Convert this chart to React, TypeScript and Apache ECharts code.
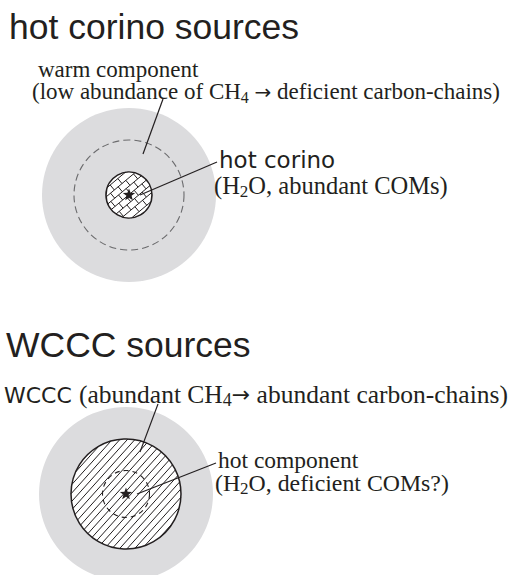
import React, { useEffect, useRef } from "react";
import * as echarts from "echarts";

// ---- content (texts) ----
const sectionTitles = ["hot corino sources", "WCCC sources"];
const warmLabel = ["warm component", "(low abundance of CH", "4", " ", "\u2192", " deficient carbon-chains)"];
const hotCorinoLabel = ["hot corino", "(H", "2", "O, abundant COMs)", "", ""];
const wcccLabel = ["WCCC", "(abundant CH", "4", "", "\u2192", " abundant carbon-chains)"];
const hotCompLabel = ["hot component", "(H", "2", "O, deficient COMs?)", "", ""];

const SANS = "'Liberation Sans', Arial, Helvetica, sans-serif";
const GOTHIC = "'DejaVu Sans', Verdana, sans-serif";
const SERIF = "'Liberation Serif', 'Times New Roman', serif";
const INK = "#231f20";
const GRAY = "#dcdcde";
const DASHGRAY = "#6a6a6c";

function star(cx: number, cy: number, R: number, r: number) {
  const pts: number[][] = [];
  for (let i = 0; i < 10; i++) {
    const a = -Math.PI / 2 + (i * Math.PI) / 5;
    const rr = i % 2 === 0 ? R : r;
    pts.push([cx + rr * Math.cos(a), cy + rr * Math.sin(a)]);
  }
  return { type: "polygon", shape: { points: pts }, style: { fill: INK } };
}

function hatch(cx: number, cy: number, R: number, step: number, angleDeg: number, lw = 0.9) {
  const t = (angleDeg * Math.PI) / 180;
  const ux = Math.cos(t), uy = -Math.sin(t);
  const nx = Math.sin(t), ny = Math.cos(t);
  const out: any[] = [];
  for (let d = -R + step / 2; d < R; d += step) {
    const h = Math.sqrt(Math.max(0, R * R - d * d));
    const px = cx + nx * d, py = cy + ny * d;
    out.push({
      type: "line",
      shape: { x1: px - ux * h, y1: py - uy * h, x2: px + ux * h, y2: py + uy * h },
      style: { stroke: INK, lineWidth: lw },
    });
  }
  return out;
}

function bricks(cx: number, cy: number, R: number, step: number, brick: number, angleDeg: number) {
  const t = (angleDeg * Math.PI) / 180;
  const ux = Math.cos(t), uy = -Math.sin(t);
  const nx = Math.sin(t), ny = Math.cos(t);
  const out: any[] = hatch(cx, cy, R, step, angleDeg, 1);
  let row = 0;
  for (let d = -R + step / 2 - step; d < R; d += step) {
    const off = row % 2 === 0 ? 0 : brick / 2;
    for (let s = -R - off; s < R; s += brick) {
      const x1 = cx + nx * d + ux * s, y1 = cy + ny * d + uy * s;
      const x2 = x1 + nx * step, y2 = y1 + ny * step;
      const in1 = (x1 - cx) ** 2 + (y1 - cy) ** 2 < R * R;
      const in2 = (x2 - cx) ** 2 + (y2 - cy) ** 2 < R * R;
      if (in1 && in2) {
        out.push({ type: "line", shape: { x1, y1, x2, y2 }, style: { stroke: INK, lineWidth: 1 } });
      }
    }
    row++;
  }
  return out;
}

function plain(text: string, x: number, baseline: number, size: number, family: string) {
  return {
    type: "text",
    x,
    y: baseline - size * 0.35,
    style: { text, font: `${size}px ${family}`, fill: INK, verticalAlign: "middle", align: "left" },
  };
}

function subText(parts: string[], x: number, baseline: number, size: number) {
  const [a, s, b, arrow, c] = parts;
  let text = `{a|${a}}{s|${s}}{a|${b}}`;
  if (arrow) text += `{r|${arrow}}{a|${c}}`;
  const lh = size + 4;
  return {
    type: "text",
    x,
    y: baseline - size * 0.35,
    style: {
      text,
      verticalAlign: "middle",
      align: "left",
      rich: {
        a: { fontFamily: SERIF, fontSize: size, lineHeight: lh, fill: INK, verticalAlign: "middle" },
        r: { fontFamily: GOTHIC, fontSize: Math.round(size * 0.85), lineHeight: lh, fill: INK, verticalAlign: "middle" },
        s: { fontFamily: SERIF, fontSize: Math.round(size * 0.7), lineHeight: 10, fill: INK, verticalAlign: "bottom" },
      },
    },
  };
}

function line(x1: number, y1: number, x2: number, y2: number) {
  return { type: "line", shape: { x1, y1, x2, y2 }, style: { stroke: INK, lineWidth: 1.2 } };
}

export default function App() {
  const ref = useRef<HTMLDivElement>(null);
  useEffect(() => {
    if (!ref.current) return;
    const chart = echarts.init(ref.current, undefined, { renderer: "svg" });

    const c1 = { x: 129, y: 195 };
    const c2 = { x: 126, y: 494 };
    const elements: any[] = [
      // top diagram
      { type: "circle", shape: { cx: c1.x, cy: c1.y, r: 87 }, style: { fill: GRAY } },
      { type: "circle", shape: { cx: c1.x, cy: c1.y, r: 55 }, style: { fill: "none", stroke: DASHGRAY, lineWidth: 1.1, lineDash: [7, 4] } },
      { type: "circle", shape: { cx: c1.x, cy: c1.y, r: 23 }, style: { fill: "#fff" } },
      ...bricks(c1.x, c1.y, 23, 6.5, 10, 40),
      { type: "circle", shape: { cx: c1.x, cy: c1.y, r: 23 }, style: { fill: "none", stroke: INK, lineWidth: 1.6 } },
      star(c1.x, c1.y, 6.5, 2.7),
      line(143, 154, 163, 99),
      line(140, 195, 217, 162),
      // bottom diagram
      { type: "circle", shape: { cx: c2.x, cy: c2.y, r: 87 }, style: { fill: GRAY } },
      { type: "circle", shape: { cx: c2.x, cy: c2.y, r: 55 }, style: { fill: "#fff" } },
      ...hatch(c2.x, c2.y, 55, 5.6, 48, 1),
      { type: "circle", shape: { cx: c2.x, cy: c2.y, r: 55 }, style: { fill: "none", stroke: INK, lineWidth: 1.5 } },
      { type: "circle", shape: { cx: c2.x, cy: c2.y, r: 23.5 }, style: { fill: "none", stroke: INK, lineWidth: 1.1, lineDash: [5, 4] } },
      star(c2.x, c2.y, 6.5, 2.7),
      line(140, 452, 158, 404),
      line(137, 494, 216, 463),
      // texts
      plain(sectionTitles[0], 9, 39, 35.5, SANS),
      plain(sectionTitles[1], 6, 357, 35.5, SANS),
      plain(warmLabel[0], 38, 78, 23, SERIF),
      subText(warmLabel.slice(1), 32, 100, 23),
      plain(hotCorinoLabel[0], 219, 168, 23, GOTHIC),
      subText(hotCorinoLabel.slice(1), 214, 194, 24.5),
      plain(wcccLabel[0], 4, 403, 22, GOTHIC),
      subText(wcccLabel.slice(1), 79, 403, 25.5),
      plain(hotCompLabel[0], 218, 468, 23.5, SERIF),
      subText(hotCompLabel.slice(1), 215, 491, 23.8),
    ];

    chart.setOption({ animation: false, graphic: { elements } });
    return () => chart.dispose();
  }, []);
  return (
    <div
      ref={ref}
      style={{ position: "fixed", left: 0, top: 0, width: 518, height: 575, background: "#fff" }}
    />
  );
}
